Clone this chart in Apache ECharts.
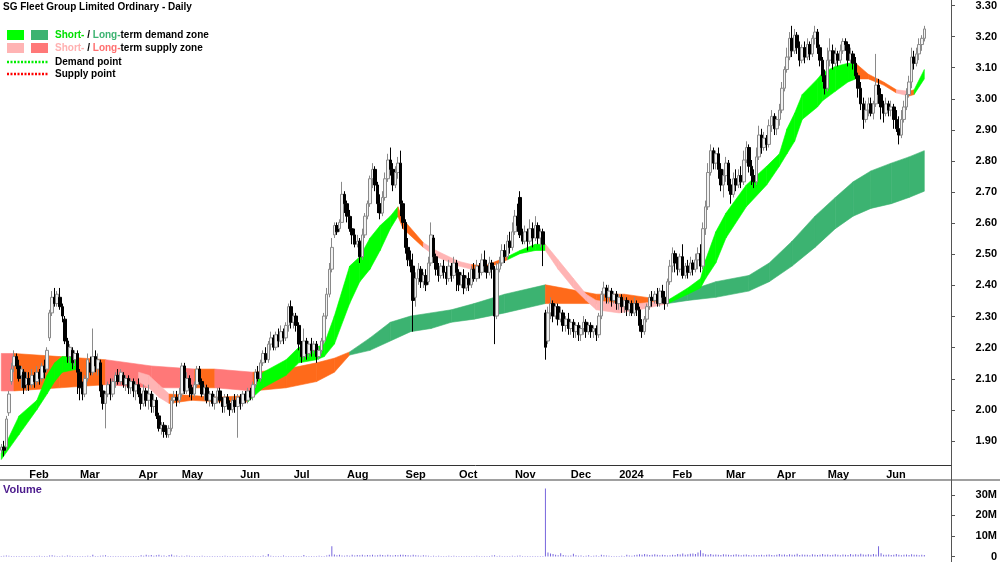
<!DOCTYPE html>
<html>
<head>
<meta charset="UTF-8">
<title>SG Fleet Group Limited Ordinary - Daily</title>
<script src="https://cdn.jsdelivr.net/npm/echarts@6.0.0/dist/echarts.min.js"></script>
<style>
html,body{margin:0;padding:0;background:#fff;}
#chart{width:1000px;height:562px;}
</style>
</head>
<body>
<div id="chart"></div>
<script>
// x axis: month label and trading days shown for that month
var months = [['',11],['Feb',20],['Mar',23],['Apr',17],['May',23],['Jun',21],['Jul',21],['Aug',23],['Sep',21],['Oct',22],['Nov',22],['Dec',19],
              ['2024',21],['Feb',21],['Mar',20],['Apr',20],['May',23],['Jun',16]];
var padDays = 10;

// daily candles [open, close, low, high]
var jan23 = [[1.87,1.88,1.86,1.89],[1.88,1.87,1.85,1.90],[1.88,1.97,1.87,1.98],[1.99,2.05,1.98,2.06],[2.09,2.13,2.08,2.15],[2.14,2.17,2.12,2.19],
  [2.17,2.14,2.13,2.18],[2.14,2.10,2.09,2.16],[2.11,2.13,2.07,2.14],[2.12,2.07,2.05,2.13],[2.08,2.10,2.06,2.12]];
var feb23 = [[2.10,2.08,2.06,2.12],[2.08,2.11,2.07,2.13],[2.11,2.09,2.07,2.12],[2.09,2.12,2.08,2.14],[2.12,2.10,2.08,2.13],[2.10,2.14,2.09,2.15],
  [2.14,2.12,2.10,2.16],[2.13,2.19,2.12,2.20],[2.23,2.31,2.22,2.32],[2.31,2.36,2.30,2.38],[2.36,2.34,2.33,2.39],[2.34,2.37,2.33,2.38],
  [2.36,2.33,2.32,2.39],[2.33,2.30,2.28,2.34],[2.29,2.22,2.21,2.30],[2.22,2.17,2.15,2.23],[2.17,2.20,2.15,2.21],[2.19,2.15,2.13,2.20],
  [2.16,2.18,2.14,2.19],[2.18,2.12,2.05,2.19]];
var mar23 = [[2.12,2.07,2.03,2.13],[2.07,2.05,2.03,2.09],[2.05,2.10,2.04,2.11],[2.10,2.16,2.09,2.18],[2.15,2.12,2.11,2.17],[2.12,2.17,2.11,2.26],
  [2.17,2.14,2.12,2.19],[2.13,2.16,2.11,2.18],[2.15,2.06,2.04,2.16],[2.06,2.02,2.00,2.08],[2.02,2.05,1.94,2.06],[2.05,2.08,2.04,2.09],
  [2.08,2.05,2.03,2.10],[2.05,2.09,2.04,2.10],[2.09,2.11,2.07,2.12],[2.11,2.09,2.08,2.13],[2.09,2.12,2.08,2.13],[2.11,2.08,2.07,2.12],
  [2.08,2.10,2.06,2.11],[2.10,2.07,2.05,2.11],[2.07,2.09,2.05,2.10],[2.09,2.06,2.04,2.10],[2.06,2.08,2.03,2.09]];
var apr23 = [[2.08,2.05,2.04,2.10],[2.05,2.02,2.00,2.07],[2.02,2.06,2.01,2.08],[2.06,2.03,2.01,2.07],[2.03,2.05,2.00,2.08],[2.05,2.01,1.99,2.06],
  [2.01,2.03,1.99,2.05],[2.03,1.98,1.97,2.04],[1.98,1.94,1.93,1.99],[1.94,1.95,1.92,1.96],[1.95,1.93,1.91,1.96],[1.93,1.92,1.91,1.95],
  [1.92,1.94,1.91,1.95],[1.94,2.03,1.93,2.04],[2.03,2.04,2.02,2.06],[2.04,2.03,2.01,2.06],[2.03,2.05,2.02,2.07]];
var may23 = [[2.05,2.14,2.04,2.15],[2.14,2.06,2.05,2.15],[2.06,2.10,2.05,2.12],[2.10,2.07,2.04,2.11],[2.07,2.05,2.03,2.08],[2.05,2.08,2.04,2.09],
  [2.08,2.13,2.07,2.14],[2.13,2.09,2.08,2.14],[2.09,2.05,2.04,2.10],[2.05,2.07,2.03,2.08],[2.07,2.03,2.02,2.08],[2.03,2.05,2.01,2.06],
  [2.05,2.02,2.01,2.06],[2.02,2.04,2.00,2.05],[2.04,2.06,2.02,2.07],[2.06,2.03,2.02,2.07],[2.03,2.01,1.99,2.04],[2.01,2.04,1.99,2.05],
  [2.04,2.02,2.00,2.05],[2.02,2.00,1.98,2.03],[2.00,2.03,1.99,2.04],[2.03,2.01,1.99,2.05],[2.01,2.04,1.91,2.05]];
var jun23 = [[2.04,2.02,2.00,2.05],[2.02,2.05,2.01,2.06],[2.05,2.03,2.02,2.06],[2.03,2.06,2.02,2.07],[2.06,2.04,2.03,2.07],[2.04,2.08,2.03,2.09],
  [2.08,2.12,2.07,2.13],[2.12,2.10,2.09,2.14],[2.10,2.15,2.09,2.16],[2.15,2.18,2.14,2.19],[2.18,2.16,2.15,2.20],[2.16,2.21,2.15,2.22],
  [2.21,2.23,2.19,2.25],[2.23,2.20,2.19,2.24],[2.20,2.24,2.19,2.25],[2.24,2.22,2.20,2.26],[2.22,2.25,2.21,2.27],[2.25,2.23,2.21,2.26],
  [2.23,2.27,2.22,2.28],[2.27,2.33,2.25,2.34],[2.33,2.28,2.26,2.35]];
var jul23 = [[2.28,2.30,2.26,2.31],[2.30,2.27,2.25,2.31],[2.27,2.21,2.19,2.28],[2.21,2.17,2.15,2.22],[2.17,2.22,2.16,2.26],[2.22,2.18,2.16,2.23],
  [2.18,2.21,2.17,2.22],[2.21,2.19,2.17,2.23],[2.19,2.21,2.18,2.22],[2.21,2.17,2.15,2.22],[2.17,2.19,2.16,2.20],[2.19,2.22,2.18,2.23],
  [2.22,2.30,2.21,2.31],[2.30,2.37,2.29,2.39],[2.37,2.45,2.36,2.47],[2.45,2.52,2.44,2.55],[2.56,2.59,2.55,2.60],[2.59,2.57,2.56,2.60],
  [2.58,2.60,2.57,2.61],[2.60,2.69,2.60,2.73],[2.69,2.66,2.63,2.70]];
var aug23 = [[2.66,2.62,2.60,2.67],[2.62,2.58,2.57,2.64],[2.58,2.56,2.53,2.62],[2.56,2.53,2.52,2.58],[2.53,2.54,2.52,2.56],[2.54,2.49,2.47,2.55],
  [2.49,2.56,2.48,2.58],[2.56,2.62,2.55,2.63],[2.62,2.66,2.61,2.67],[2.66,2.74,2.65,2.75],[2.74,2.77,2.71,2.79],[2.77,2.72,2.70,2.78],
  [2.72,2.66,2.63,2.73],[2.66,2.63,2.61,2.69],[2.63,2.68,2.62,2.70],[2.68,2.74,2.67,2.76],[2.74,2.80,2.73,2.82],[2.80,2.77,2.75,2.84],
  [2.77,2.72,2.70,2.79],[2.72,2.76,2.71,2.78],[2.76,2.79,2.74,2.81],[2.79,2.66,2.62,2.83],[2.66,2.60,2.58,2.67]];
var sep23 = [[2.60,2.52,2.50,2.61],[2.52,2.48,2.46,2.55],[2.48,2.46,2.44,2.51],[2.46,2.35,2.25,2.50],[2.36,2.42,2.33,2.44],[2.42,2.45,2.40,2.47],
  [2.45,2.41,2.39,2.46],[2.41,2.43,2.39,2.44],[2.43,2.40,2.38,2.45],[2.41,2.47,2.40,2.49],[2.47,2.56,2.46,2.60],[2.55,2.49,2.47,2.56],
  [2.49,2.45,2.43,2.50],[2.45,2.43,2.41,2.47],[2.43,2.46,2.42,2.47],[2.46,2.44,2.42,2.48],[2.44,2.42,2.40,2.46],[2.42,2.46,2.41,2.48],
  [2.46,2.43,2.41,2.47],[2.43,2.47,2.42,2.49],[2.47,2.44,2.38,2.48]];
var oct23 = [[2.44,2.40,2.38,2.45],[2.40,2.43,2.39,2.44],[2.43,2.39,2.37,2.45],[2.39,2.42,2.38,2.43],[2.42,2.40,2.38,2.44],[2.40,2.45,2.39,2.46],
  [2.45,2.42,2.41,2.47],[2.42,2.46,2.41,2.48],[2.46,2.44,2.42,2.47],[2.44,2.48,2.43,2.50],[2.48,2.46,2.44,2.51],[2.46,2.44,2.42,2.48],
  [2.44,2.47,2.43,2.49],[2.47,2.45,2.42,2.48],[2.45,2.30,2.21,2.46],[2.30,2.45,2.29,2.47],[2.45,2.47,2.44,2.49],[2.47,2.51,2.46,2.53],
  [2.51,2.49,2.47,2.53],[2.49,2.54,2.48,2.56],[2.54,2.52,2.50,2.57],[2.52,2.57,2.51,2.60]];
var nov23 = [[2.57,2.62,2.56,2.64],[2.62,2.59,2.57,2.66],[2.68,2.56,2.55,2.70],[2.56,2.54,2.53,2.58],[2.54,2.57,2.53,2.59],[2.57,2.54,2.51,2.58],
  [2.54,2.58,2.53,2.61],[2.58,2.55,2.52,2.60],[2.55,2.59,2.54,2.62],[2.59,2.55,2.53,2.60],[2.55,2.57,2.52,2.58],[2.57,2.53,2.46,2.58],
  [2.31,2.20,2.16,2.32],[2.22,2.31,2.21,2.33],[2.31,2.34,2.29,2.36],[2.34,2.30,2.28,2.35],[2.30,2.33,2.29,2.34],[2.33,2.29,2.27,2.34],
  [2.29,2.31,2.28,2.33],[2.31,2.27,2.25,2.32],[2.27,2.29,2.25,2.30],[2.29,2.26,2.24,2.31]];
var dec23 = [[2.26,2.28,2.24,2.29],[2.28,2.25,2.23,2.29],[2.25,2.27,2.23,2.28],[2.27,2.24,2.22,2.28],[2.24,2.26,2.22,2.27],[2.26,2.28,2.24,2.30],
  [2.28,2.25,2.23,2.29],[2.25,2.27,2.24,2.28],[2.27,2.25,2.23,2.28],[2.25,2.26,2.23,2.27],[2.26,2.24,2.22,2.27],[2.24,2.30,2.23,2.31],
  [2.30,2.37,2.29,2.38],[2.37,2.39,2.35,2.41],[2.39,2.36,2.34,2.40],[2.36,2.38,2.34,2.40],[2.38,2.35,2.33,2.39],[2.35,2.37,2.34,2.38],
  [2.37,2.34,2.32,2.38]];
var jan24 = [[2.34,2.36,2.32,2.37],[2.36,2.33,2.31,2.37],[2.33,2.35,2.31,2.36],[2.35,2.32,2.30,2.36],[2.32,2.34,2.30,2.35],[2.34,2.31,2.30,2.35],
  [2.31,2.34,2.30,2.36],[2.34,2.32,2.30,2.35],[2.32,2.27,2.25,2.33],[2.27,2.25,2.23,2.29],[2.25,2.29,2.24,2.30],[2.29,2.33,2.28,2.34],
  [2.33,2.36,2.32,2.37],[2.36,2.35,2.33,2.38],[2.35,2.37,2.34,2.38],[2.37,2.34,2.33,2.39],[2.34,2.38,2.33,2.39],[2.38,2.36,2.34,2.40],
  [2.36,2.34,2.32,2.38],[2.34,2.41,2.33,2.42],[2.41,2.46,2.40,2.48]];
var feb24 = [[2.46,2.50,2.44,2.52],[2.50,2.47,2.44,2.51],[2.47,2.45,2.43,2.49],[2.45,2.49,2.44,2.50],[2.49,2.43,2.42,2.53],[2.43,2.46,2.42,2.47],
  [2.46,2.44,2.42,2.48],[2.44,2.47,2.43,2.49],[2.47,2.45,2.43,2.48],[2.45,2.48,2.44,2.50],[2.48,2.50,2.45,2.52],[2.50,2.46,2.44,2.53],
  [2.46,2.58,2.45,2.60],[2.58,2.65,2.56,2.67],[2.65,2.76,2.64,2.79],[2.76,2.83,2.75,2.85],[2.83,2.79,2.77,2.84],[2.79,2.82,2.77,2.83],
  [2.82,2.77,2.74,2.84],[2.77,2.72,2.70,2.79],[2.72,2.75,2.68,2.77]];
var mar24 = [[2.75,2.79,2.73,2.81],[2.79,2.72,2.70,2.80],[2.72,2.69,2.66,2.74],[2.69,2.74,2.68,2.76],[2.74,2.72,2.70,2.77],[2.72,2.75,2.71,2.77],
  [2.75,2.73,2.71,2.78],[2.73,2.80,2.72,2.83],[2.80,2.84,2.79,2.86],[2.84,2.78,2.76,2.85],[2.78,2.75,2.72,2.80],[2.75,2.73,2.71,2.77],
  [2.73,2.81,2.72,2.84],[2.81,2.88,2.80,2.91],[2.88,2.84,2.82,2.90],[2.84,2.87,2.83,2.89],[2.87,2.85,2.83,2.88],[2.85,2.91,2.84,2.93],
  [2.91,2.94,2.89,2.96],[2.94,2.90,2.88,2.95]];
var apr24 = [[2.90,2.93,2.88,2.94],[2.93,2.96,2.91,2.98],[2.96,3.03,2.95,3.05],[3.03,3.09,3.02,3.10],[3.09,3.13,3.08,3.16],[3.13,3.19,3.12,3.21],
  [3.19,3.15,3.13,3.23],[3.15,3.20,3.14,3.22],[3.20,3.16,3.14,3.21],[3.16,3.12,3.10,3.18],[3.12,3.16,3.11,3.17],[3.16,3.13,3.11,3.18],
  [3.13,3.17,3.12,3.19],[3.17,3.14,3.12,3.18],[3.14,3.19,3.13,3.20],[3.19,3.21,3.17,3.23],[3.21,3.16,3.14,3.22],[3.16,3.12,3.10,3.17],
  [3.12,3.07,3.05,3.13],[3.07,3.03,3.01,3.09]];
var may24 = [[3.03,3.12,3.02,3.16],[3.12,3.15,3.10,3.19],[3.15,3.11,3.09,3.17],[3.11,3.14,3.10,3.16],[3.14,3.12,3.10,3.15],[3.12,3.15,3.11,3.17],
  [3.15,3.18,3.14,3.19],[3.18,3.17,3.15,3.19],[3.17,3.12,3.10,3.18],[3.12,3.14,3.11,3.16],[3.14,3.11,3.09,3.15],[3.11,3.07,3.06,3.13],
  [3.07,3.03,3.00,3.08],[3.03,2.98,2.96,3.05],[2.98,2.93,2.90,3.00],[2.93,2.96,2.92,2.99],[2.96,2.98,2.94,3.00],[2.98,2.95,2.94,3.00],
  [2.95,2.98,2.93,2.99],[2.98,3.04,2.97,3.14],[3.04,3.01,2.98,3.06],[3.01,2.97,2.93,3.03],[2.97,2.95,2.92,2.99]];
var jun24 = [[2.95,2.98,2.94,3.00],[2.98,2.96,2.94,2.99],[2.96,2.97,2.94,2.99],[2.97,2.93,2.90,2.98],[2.93,2.90,2.89,2.96],[2.90,2.88,2.85,2.94],
  [2.88,2.93,2.87,2.96],[2.93,2.97,2.92,2.99],[2.97,3.01,2.96,3.03],[3.01,3.05,3.00,3.07],[3.05,3.13,3.03,3.16],[3.13,3.11,3.09,3.15],
  [3.11,3.14,3.10,3.16],[3.14,3.17,3.12,3.19],[3.17,3.19,3.15,3.20],[3.19,3.22,3.18,3.23]];

// daily volume, millions
var volJan23 = [0.3,0.4,0.5,0.4,0.3,0.3,0.2,0.3,0.2,0.3,0.2];
var volFeb23 = [0.3,0.2,0.3,0.2,0.4,0.3,0.2,0.3,0.5,0.6,0.4,0.3,0.3,0.4,0.3,0.5,0.4,0.3,0.2,0.3];
var volMar23 = [0.3,0.2,0.3,0.4,0.3,0.8,0.3,0.2,0.4,0.5,0.6,0.3,0.2,0.3,0.2,0.3,0.2,0.3,0.2,0.2,0.3,0.2,0.3];
var volApr23 = [0.3,0.6,0.4,0.9,0.5,0.7,0.4,0.6,0.8,0.4,0.5,0.3,0.7,1.0,0.4,0.5,0.3];
var volMay23 = [0.4,0.3,0.5,0.4,0.2,0.3,0.2,0.3,0.4,0.3,0.2,0.3,0.2,0.3,0.2,0.2,0.3,0.4,0.2,0.3,0.2,0.3,0.2];
var volJun23 = [0.3,0.2,0.3,0.2,0.3,0.4,0.2,0.3,0.2,0.5,0.3,1.2,0.4,0.3,0.2,0.3,0.2,0.5,0.3,0.2,0.3];
var volJul23 = [0.2,0.3,0.2,0.3,0.7,0.3,0.2,0.3,0.2,0.3,0.4,0.3,0.2,0.5,0.8,5.0,1.0,0.6,0.8,0.5,0.4];
var volAug23 = [0.6,0.4,0.8,0.5,0.7,0.6,0.9,0.5,0.7,0.6,0.8,0.5,0.6,0.9,0.7,0.5,0.8,0.6,0.5,0.7,0.6,0.9,0.8];
var volSep23 = [0.7,0.6,0.5,0.9,0.6,0.5,0.4,0.6,0.5,0.4,0.3,0.4,0.3,0.4,0.3,0.2,0.3,0.4,0.3,0.4,0.3];
var volOct23 = [0.3,0.2,0.3,0.2,0.3,0.2,0.3,0.4,0.3,0.2,0.3,0.2,0.3,0.5,0.6,0.3,0.4,0.3,0.2,0.3,0.2,0.4];
var volNov23 = [0.3,0.4,0.5,0.3,0.2,0.3,0.2,0.3,0.2,0.3,0.2,0.3,33.0,2.0,1.5,1.2,0.8,0.6,1.6,0.7,0.5,0.4];
var volDec23 = [0.5,1.3,0.6,0.4,0.5,0.3,0.4,0.6,0.3,0.4,0.5,0.3,0.9,0.6,0.5,0.4,0.3,0.2,0.3];
var volJan24 = [0.3,0.4,0.3,0.8,0.5,0.4,0.6,0.9,1.1,0.8,1.2,1.0,0.7,0.9,1.1,0.8,0.6,0.9,0.7,0.5,0.6];
var volFeb24 = [0.8,0.7,1.2,1.0,1.4,0.9,1.1,1.3,1.5,1.2,2.0,3.0,1.6,1.1,0.9,1.2,0.8,1.0,0.9,0.7,1.1];
var volMar24 = [1.0,0.8,0.7,0.9,1.1,0.8,0.6,0.9,1.0,0.7,0.5,0.8,0.6,0.7,0.9,0.6,0.8,1.0,0.7,0.6];
var volApr24 = [0.9,1.2,0.8,1.0,0.7,1.1,0.9,0.8,1.3,0.7,1.0,0.8,0.9,0.6,1.1,0.8,0.7,0.9,1.2,0.8];
var volMay24 = [1.0,0.7,0.9,1.1,0.8,0.6,1.0,0.9,0.7,1.2,0.8,1.1,0.9,1.3,1.0,0.8,1.1,0.9,1.2,1.0,5.0,1.6,0.9];
var volJun24 = [0.8,1.0,0.7,0.9,1.2,0.8,0.6,0.9,1.0,0.7,1.1,0.8,0.9,0.6,0.8,0.7];

// zone bands: [day index, lower, upper, colour of the stretch that follows]
var longBand = [[0,2.06,2.18,'R'],[5,2.06,2.18,'O'],[23,2.07,2.17,'O'],[41,2.08,2.16,'R'],[59,2.07,2.14,'R'],[76,2.07,2.13,'O'],
  [84,2.07,2.13,'R'],[99,2.06,2.12,'O'],[112,2.07,2.13,'O'],[124,2.09,2.15,'O'],[131,2.12,2.165,'O'],[137,2.175,2.185,'D'],
  [145,2.19,2.23,'D'],[153,2.22,2.28,'D'],[161,2.25,2.30,'D'],[169,2.26,2.31,'D'],[177,2.28,2.32,'D'],[186,2.29,2.34,'D'],
  [198,2.31,2.37,'D'],[214,2.34,2.40,'O'],[234,2.34,2.37,'O'],[245,2.335,2.37,'O'],[262,2.34,2.35,'D'],[270,2.35,2.38,'D'],
  [281,2.36,2.41,'D'],[294,2.38,2.43,'D'],[302,2.41,2.47,'D'],[311,2.46,2.54,'D'],[320,2.52,2.62,'D'],[328,2.58,2.68,'D'],
  [335,2.62,2.73,'D'],[342,2.645,2.765,'D'],[350,2.66,2.79,'D'],[357,2.68,2.81,'D'],[363,2.70,2.83,'D']];
var shortBandA = [[0,1.84,1.86,'G'],[7,1.92,1.98,'G'],[14,2.00,2.03,'G'],[18,2.05,2.11,'G'],[21,2.09,2.15,'G'],[24,2.12,2.17,'G'],[30,2.13,2.17,'G']];
var shortBandB = [[54,2.09,2.12,'P'],[58,2.07,2.11,'P'],[62,2.04,2.08,'P'],[66,2.02,2.05,'O'],[75,2.03,2.045,'O'],[85,2.025,2.04,'O'],
  [97,2.025,2.045,'G'],[103,2.07,2.12,'G'],[112,2.11,2.16,'G'],[117,2.15,2.20,'G'],[124,2.16,2.20,'G'],[127,2.17,2.21,'G'],
  [131,2.21,2.30,'G'],[137,2.34,2.46,'G'],[141,2.41,2.49,'G'],[145,2.45,2.55,'G'],[149,2.51,2.59,'G'],[153,2.58,2.62,'G'],
  [156,2.62,2.65,'O'],[158,2.58,2.61,'O'],[166,2.52,2.535,'P'],[171,2.49,2.51,'P'],[180,2.46,2.475,'P'],[185,2.45,2.465,'O'],
  [190,2.45,2.46,'O'],[199,2.48,2.49,'G'],[204,2.50,2.51,'G'],[210,2.51,2.53,'G'],[214,2.51,2.53,'P'],[219,2.45,2.48,'P'],
  [225,2.39,2.42,'P'],[230,2.35,2.37,'P'],[234,2.32,2.35,'P'],[243,2.31,2.34,'P'],[251,2.32,2.34,'P'],[262,2.34,2.35,'G'],
  [270,2.37,2.39,'G'],[275,2.39,2.42,'G'],[277,2.42,2.48,'G'],[281,2.47,2.57,'G'],[285,2.55,2.63,'G'],[293,2.65,2.72,'G'],
  [301,2.72,2.78,'G'],[306,2.78,2.82,'G'],[309,2.82,2.90,'G'],[312,2.86,2.95,'G'],[315,2.93,3.01,'G'],[321,2.97,3.06,'G'],
  [323,2.99,3.08,'G'],[328,3.02,3.10,'G'],[333,3.05,3.11,'G'],[336,3.06,3.11,'O'],[341,3.06,3.075,'O'],[347,3.04,3.05,'O'],
  [352,3.015,3.025,'P'],[357,3.005,3.02,'O'],[359,3.01,3.025,'G'],[363,3.06,3.09,'G']];

var zoneColors = {G:'#00ff00', D:'#3cb371', P:'#ffb4b4', R:'#ff7878', O:'#ff6a1a'};

var candles = [].concat(jan23,feb23,mar23,apr23,may23,jun23,jul23,aug23,sep23,oct23,nov23,dec23,jan24,feb24,mar24,apr24,may24,jun24);
var volume = [].concat(volJan23,volFeb23,volMar23,volApr23,volMay23,volJun23,volJul23,volAug23,volSep23,volOct23,volNov23,volDec23,
  volJan24,volFeb24,volMar24,volApr24,volMay24,volJun24);

// categories, with month labels on the first trading day of each month
var cats = [], monthLab = {};
months.forEach(function (m, k) {
  for (var d = 0; d < m[1]; d++) {
    if (d === 0 && m[0]) monthLab[cats.length] = m[0];
    cats.push(k + '-' + d);
  }
});
for (var p = 0; p < padDays; p++) cats.push('pad-' + p);
var nCat = cats.length;

// band segments for the custom series
var segs = [], segCol = [];
[longBand, shortBandA, shortBandB].forEach(function (b) {
  for (var k = 0; k < b.length - 1; k++) {
    segs.push([b[k][0], b[k][1], b[k][2], b[k + 1][0], b[k + 1][1], b[k + 1][2]]);
    segCol.push(zoneColors[b[k][3]]);
  }
});

var font = 'Liberation Sans, Arial, sans-serif';
var chart = echarts.init(document.getElementById('chart'));

var monthTick = function (i) { return monthLab[i] !== undefined; };

chart.setOption({
  animation: false,
  backgroundColor: '#fff',
  grid: [
    {left: 0, right: 49, top: 0, height: 465},
    {left: 0, right: 49, top: 4, height: 437},
    {left: 0, right: 49, top: 482, height: 76}
  ],
  xAxis: [
    {type: 'category', gridIndex: 0, data: cats, boundaryGap: true,
      axisLine: {lineStyle: {color: '#333', width: 1}},
      axisTick: {interval: monthTick, length: 12, lineStyle: {color: '#333'}},
      axisLabel: {interval: monthTick, formatter: function (v, i) { return monthLab[i] || ''; },
        align: 'left', margin: 4, color: '#000', fontFamily: font, fontWeight: 'bold', fontSize: 11},
      splitLine: {show: false}},
    {type: 'value', gridIndex: 0, min: -0.5, max: nCat - 0.5, show: false},
    {type: 'category', gridIndex: 2, data: cats, show: false},
    {type: 'category', gridIndex: 1, data: cats, show: false}
  ],
  yAxis: [
    {type: 'value', gridIndex: 0, min: 1.8226, max: 3.3128, show: false, splitLine: {show: false}},
    {type: 'value', gridIndex: 1, position: 'right', min: 1.9, max: 3.3, interval: 0.1,
      axisLine: {show: false, onZero: false}, splitLine: {show: false},
      axisTick: {show: true, length: 4, lineStyle: {color: '#555'}},
      axisLabel: {formatter: function (v) { return v.toFixed(2); }, align: 'right', margin: 46,
        color: '#000', fontFamily: font, fontWeight: 'bold', fontSize: 11}},
    {type: 'value', gridIndex: 2, position: 'right', min: 0, max: 36.2, interval: 10,
      axisLine: {show: false, onZero: false}, splitLine: {show: false},
      axisTick: {show: true, length: 4, lineStyle: {color: '#555'}},
      axisLabel: {formatter: function (v) { return v ? v + 'M' : '0'; }, align: 'right', margin: 46, showMaxLabel: false,
        color: '#000', fontFamily: font, fontWeight: 'bold', fontSize: 11}}
  ],
  series: [
    {type: 'custom', name: 'zones', xAxisIndex: 1, yAxisIndex: 0, data: segs, clip: true,
      encode: {x: [0, 3], y: [1, 2, 4, 5]},
      renderItem: function (params, api) {
        var a = api.coord([api.value(0), api.value(2)]);
        var b = api.coord([api.value(3), api.value(5)]);
        var c = api.coord([api.value(3), api.value(4)]);
        var d = api.coord([api.value(0), api.value(1)]);
        var col = segCol[params.dataIndex];
        return {type: 'polygon', shape: {points: [a, b, c, d]},
          style: {fill: col, stroke: col, lineWidth: 0.6}};
      },
      z: 1},
    {type: 'candlestick', name: 'price', xAxisIndex: 0, yAxisIndex: 0, data: candles, barWidth: 3,
      itemStyle: {color: '#f2f2f2', color0: '#000', borderColor: '#8a8a8a', borderColor0: '#000', borderWidth: 1},
      z: 3},
    {type: 'bar', name: 'Volume', xAxisIndex: 2, yAxisIndex: 2, data: volume, barWidth: 1,
      itemStyle: {color: '#7766dd'}}
  ],
  graphic: [
    {type: 'text', left: 3, top: 2, style: {text: 'SG Fleet Group Limited Ordinary - Daily', fill: '#000',
      font: 'bold 10px ' + font}},
    {type: 'rect', shape: {x: 7, y: 30, width: 17, height: 10}, style: {fill: zoneColors.G}},
    {type: 'rect', shape: {x: 31, y: 30, width: 17, height: 10}, style: {fill: zoneColors.D}},
    {type: 'rect', shape: {x: 7, y: 43, width: 17, height: 10}, style: {fill: zoneColors.P}},
    {type: 'rect', shape: {x: 31, y: 43, width: 17, height: 10}, style: {fill: zoneColors.R}},
    {type: 'line', shape: {x1: 7, y1: 62, x2: 48, y2: 62}, style: {stroke: '#00ee00', lineWidth: 2.5, lineDash: [2, 1.5]}},
    {type: 'line', shape: {x1: 7, y1: 74, x2: 48, y2: 74}, style: {stroke: '#ff0000', lineWidth: 2.5, lineDash: [2, 1.5]}},
    {type: 'text', x: 55, y: 35, style: {text: '{g|Short-}{k| / }{d|Long-}{k|term demand zone}', verticalAlign: 'middle',
      rich: {g: {fill: '#00e000', font: 'bold 10px ' + font}, d: {fill: '#3cb371', font: 'bold 10px ' + font},
             k: {fill: '#000', font: 'bold 10px ' + font}}}},
    {type: 'text', x: 55, y: 48, style: {text: '{p|Short-}{k| / }{r|Long-}{k|term supply zone}', verticalAlign: 'middle',
      rich: {p: {fill: '#ffb0b0', font: 'bold 10px ' + font}, r: {fill: '#ff6f6f', font: 'bold 10px ' + font},
             k: {fill: '#000', font: 'bold 10px ' + font}}}},
    {type: 'text', x: 55, y: 62, style: {text: 'Demand point', fill: '#000', font: 'bold 10px ' + font, verticalAlign: 'middle'}},
    {type: 'text', x: 55, y: 74, style: {text: 'Supply point', fill: '#000', font: 'bold 10px ' + font, verticalAlign: 'middle'}},
    {type: 'text', x: 3, y: 490, style: {text: 'Volume', fill: '#4b1a8c', font: 'bold 11px ' + font, verticalAlign: 'middle'}},
    {type: 'rect', shape: {x: 0, y: 479, width: 1000, height: 2}, style: {fill: '#a0a0a0'}},
    {type: 'line', shape: {x1: 951.5, y1: 0, x2: 951.5, y2: 562}, style: {stroke: '#555', lineWidth: 1}}
  ]
});
</script>
</body>
</html>
